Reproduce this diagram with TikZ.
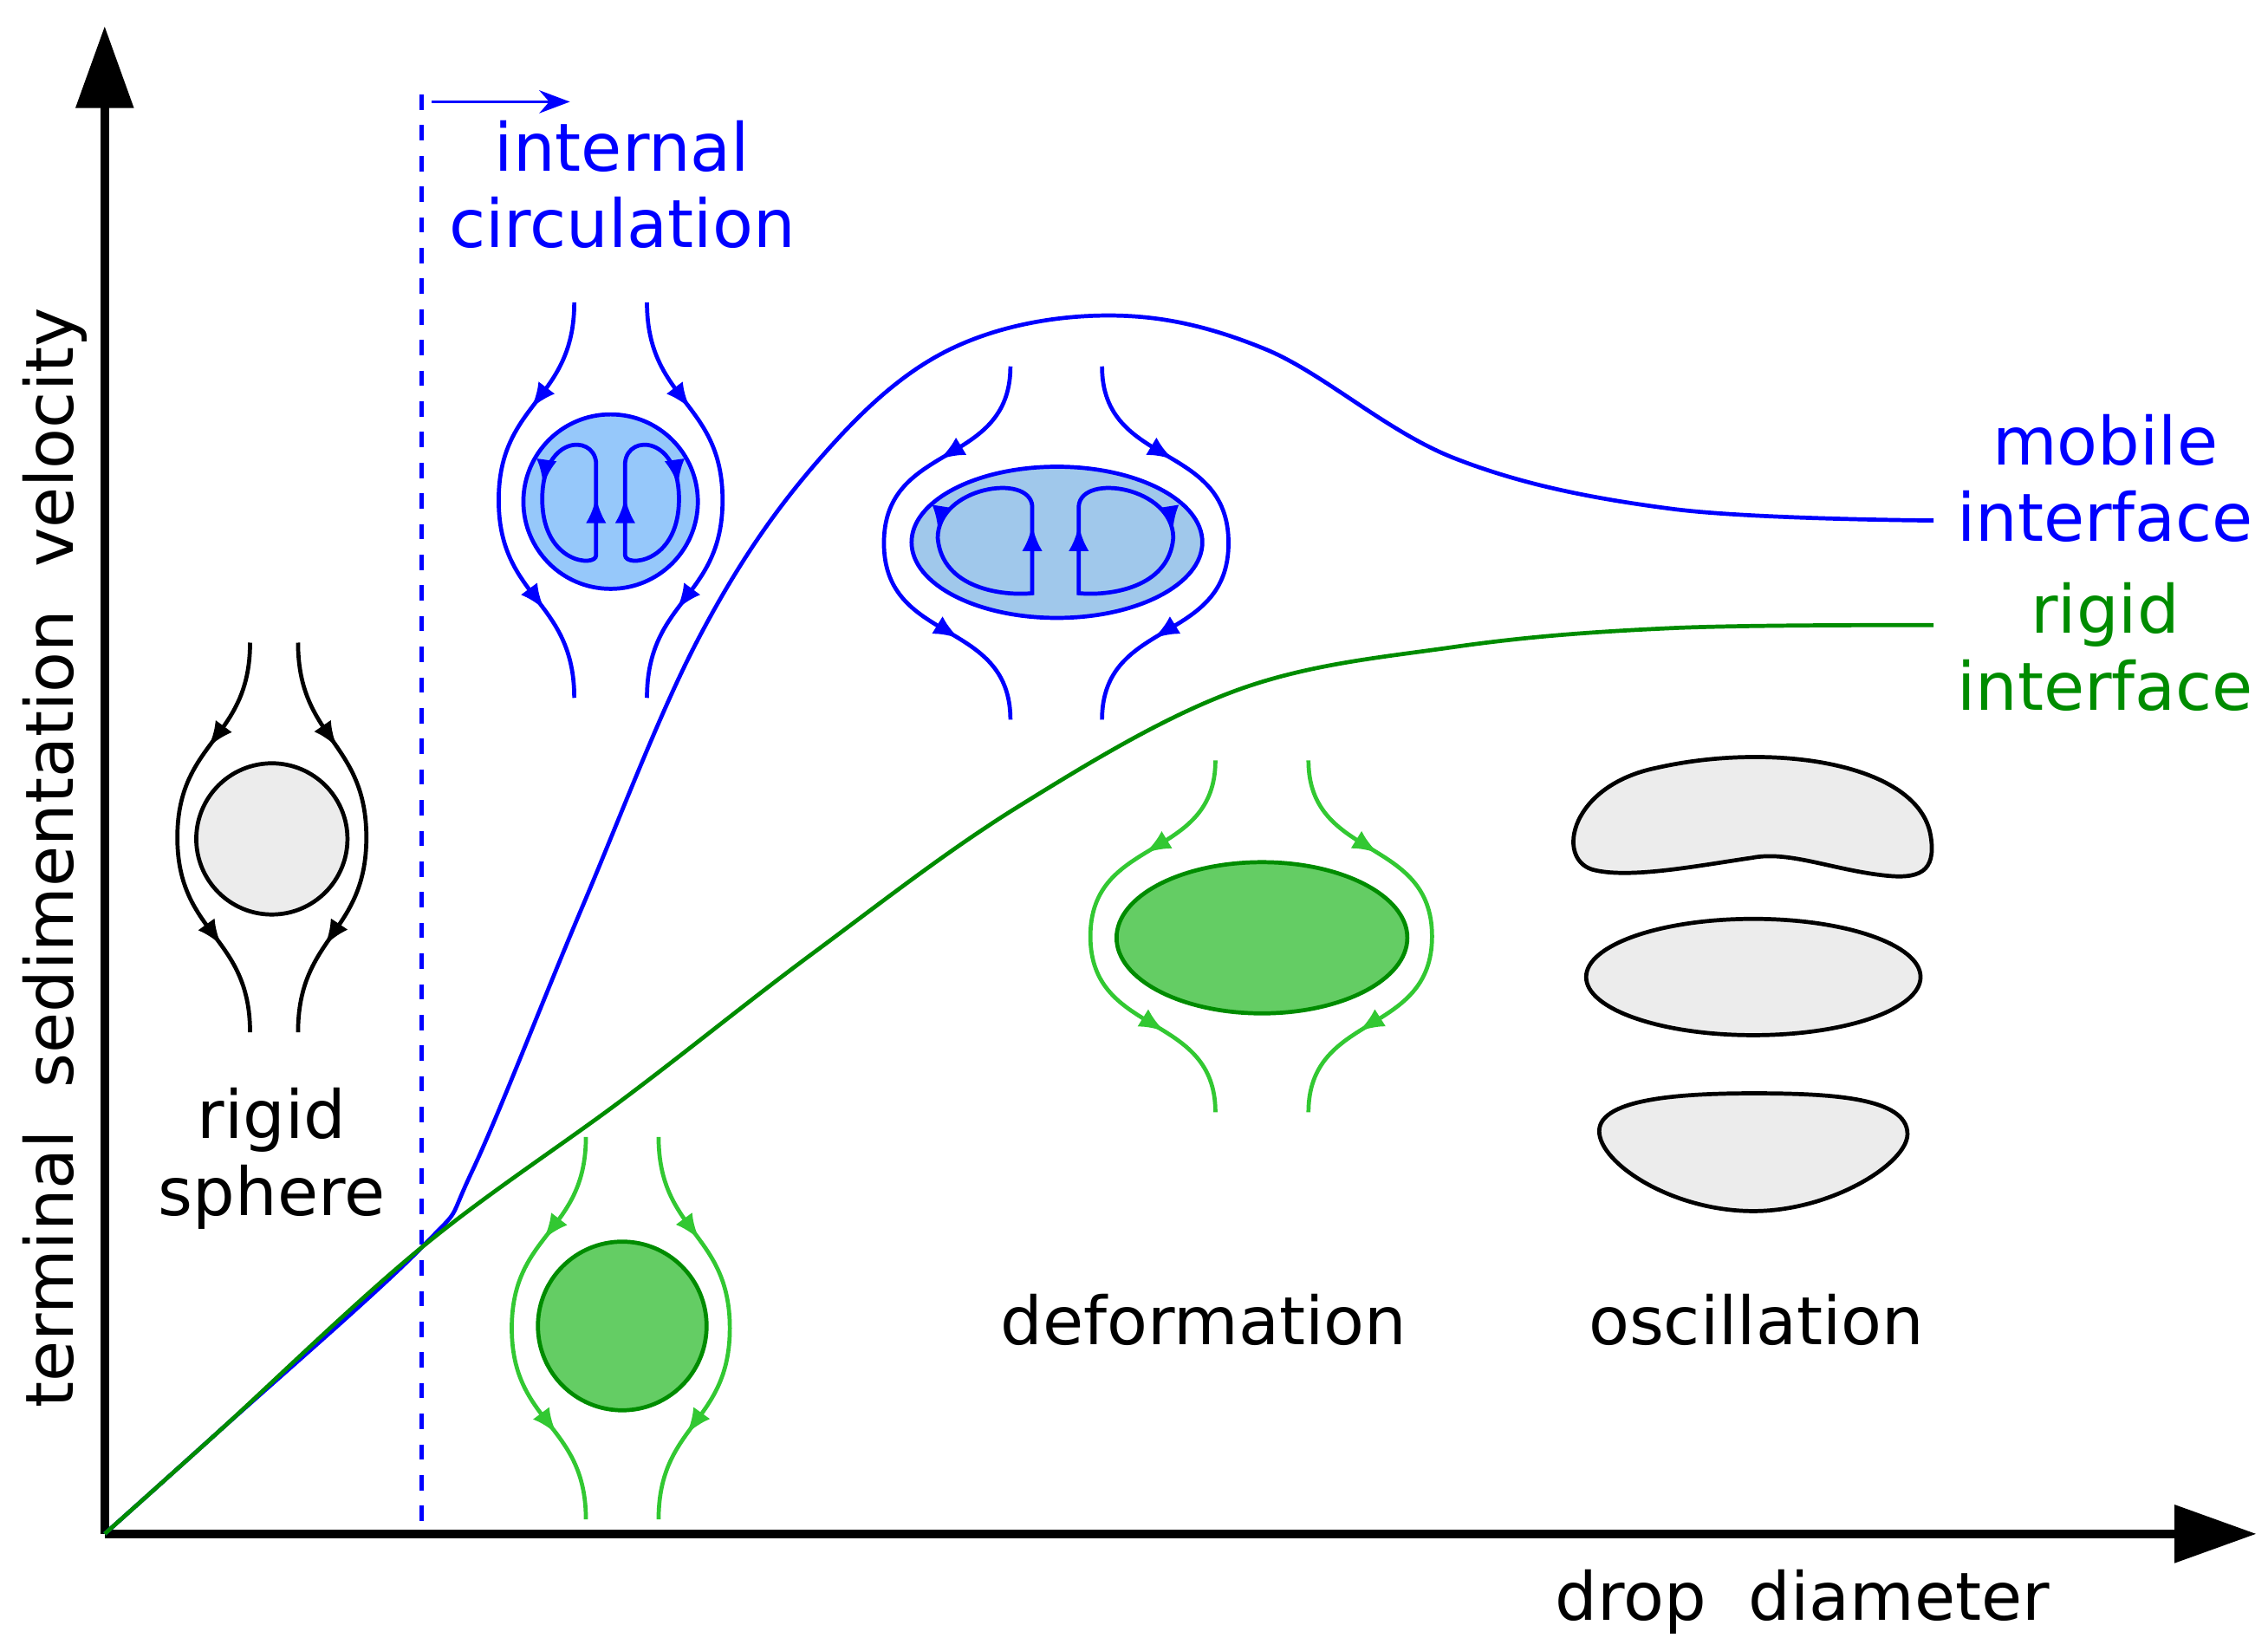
\documentclass[tikz,border=0pt]{standalone}
\usepackage{fontspec}
\setmainfont{DejaVu Sans}
\usetikzlibrary{decorations.markings,arrows.meta}
\definecolor{dkgreen}{RGB}{0,140,0}
\definecolor{ltgreen}{RGB}{50,200,50}
\definecolor{dropgreen}{RGB}{100,205,100}
\definecolor{dropblue}{RGB}{150,200,250}
\definecolor{dropblueb}{RGB}{160,200,235}
\tikzset{
  lab/.style={font=\fontsize{13}{15}\selectfont, align=center, inner sep=0pt},
  flow/.style={thick, postaction={decorate}, decoration={markings,
      mark=at position 0.27 with {\arrow{Latex[length=5pt,width=4pt]}},
      mark=at position 0.78 with {\arrow{Latex[length=5pt,width=4pt]}}}},
  loop/.style={thick, postaction={decorate}, decoration={markings,
      mark=at position 0.2 with {\arrow{Latex[length=5pt,width=4pt]}},
      mark=at position 0.62 with {\arrow{Latex[length=5pt,width=4pt]}}}},
}
% streamline: start x, bulge x, top y, bottom y
\newcommand{\sline}[5][]{\draw[flow,#1] (#2,#4) to[out=-90,in=90,looseness=1.2] (#3,{(#4+#5)/2}) to[out=-90,in=90,looseness=1.2] (#2,#5);}
\begin{document}
\begin{tikzpicture}[x=0.01cm,y=-0.01cm]
\useasboundingbox (0,0) rectangle (1560,1135.5);
% axes
\coordinate (o) at (72,1055);
\coordinate (ytip) at (72,18);
\coordinate (xtip) at (1552,1055);
\draw[line width=1.6pt,-{Triangle[length=16pt,width=11pt]}] (o) -- (ytip);
\draw[line width=1.6pt,-{Triangle[length=16pt,width=11pt]}] (o) -- (xtip);
\node[lab,rotate=90] (ylab) at (38,590) {terminal\ \ sedimentation\ \ velocity};
\node[lab] (xlab) at (1240,1102) {drop\ \ diameter};
% internal circulation limit
\draw[blue,thick,dashed] (290,65) -- (290,1055);
\draw[blue,-{Stealth[length=6pt]}] (297,70) -- (392,70);
\node[lab,blue] (ic) at (428,127) {internal\\circulation};
% curves
\draw[blue,thick] plot[smooth,tension=0.6] coordinates {(72,1055) (150,985) (290,858) (325,805) (400,625) (480,440) (560,320) (650,242) (760,217) (870,240) (1000,315) (1150,350) (1330,358)};
\draw[dkgreen,thick] plot[smooth,tension=0.6] coordinates {(72,1055) (150,985) (290,858) (430,755) (560,655) (700,555) (850,475) (1000,445) (1150,432) (1330,430)};
\node[lab,blue] (mob) at (1448,329) {mobile\\interface};
\node[lab,dkgreen] (rig) at (1448,445) {rigid\\interface};
% rigid sphere
\draw[thick,fill=gray!15] (187,577) circle (52);
\sline{172}{122}{442}{710}
\sline{205}{252}{442}{710}
\node[lab] (rs) at (187,797) {rigid\\sphere};
% blue circle drop
\draw[blue,thick,fill=dropblue] (420,345) circle (60);
\sline[blue]{395}{343}{208}{480}
\sline[blue]{445}{497}{208}{480}
\draw[blue,loop] (410,382) -- (410,318) .. controls (408,298) and (372,300) .. (373,345) .. controls (374,388) and (410,390) .. cycle;
\draw[blue,loop] (430,382) -- (430,318) .. controls (432,298) and (468,300) .. (467,345) .. controls (466,388) and (430,390) .. cycle;
% blue ellipse drop
\draw[blue,thick,fill=dropblueb] (727,373) ellipse (100 and 52);
\sline[blue]{695}{608}{252}{495}
\sline[blue]{758}{845}{252}{495}
\draw[blue,loop] (710,408) -- (710,348) .. controls (708,325) and (645,335) .. (645,370) .. controls (648,405) and (690,410) .. cycle;
\draw[blue,loop] (742,408) -- (742,348) .. controls (744,325) and (807,335) .. (807,370) .. controls (804,405) and (762,410) .. cycle;
% green circle drop
\draw[dkgreen,thick,fill=dropgreen] (428,912) circle (58);
\sline[ltgreen]{403}{352}{782}{1045}
\sline[ltgreen]{453}{502}{782}{1045}
% green ellipse drop
\draw[dkgreen,thick,fill=dropgreen] (868,645) ellipse (100 and 52);
\sline[ltgreen]{836}{750}{523}{765}
\sline[ltgreen]{900}{985}{523}{765}
\node[lab] (def) at (828,908) {deformation};
% oscillating drops
\draw[thick,fill=gray!15] (1095,598) .. controls (1070,590) and (1080,540) .. (1140,528) .. controls (1220,510) and (1320,525) .. (1328,575) .. controls (1332,600) and (1320,605) .. (1295,602) .. controls (1260,598) and (1230,585) .. (1205,590) .. controls (1170,595) and (1120,605) .. cycle;
\draw[thick,fill=gray!15] (1206,672) ellipse (115 and 40);
\draw[thick,fill=gray!15] (1100,778) .. controls (1100,755) and (1160,752) .. (1206,752) .. controls (1260,752) and (1312,755) .. (1312,780) .. controls (1312,800) and (1260,833) .. (1206,833) .. controls (1150,833) and (1100,800) .. cycle;
\node[lab] (osc) at (1208,908) {oscillation};
\end{tikzpicture}
\end{document}
